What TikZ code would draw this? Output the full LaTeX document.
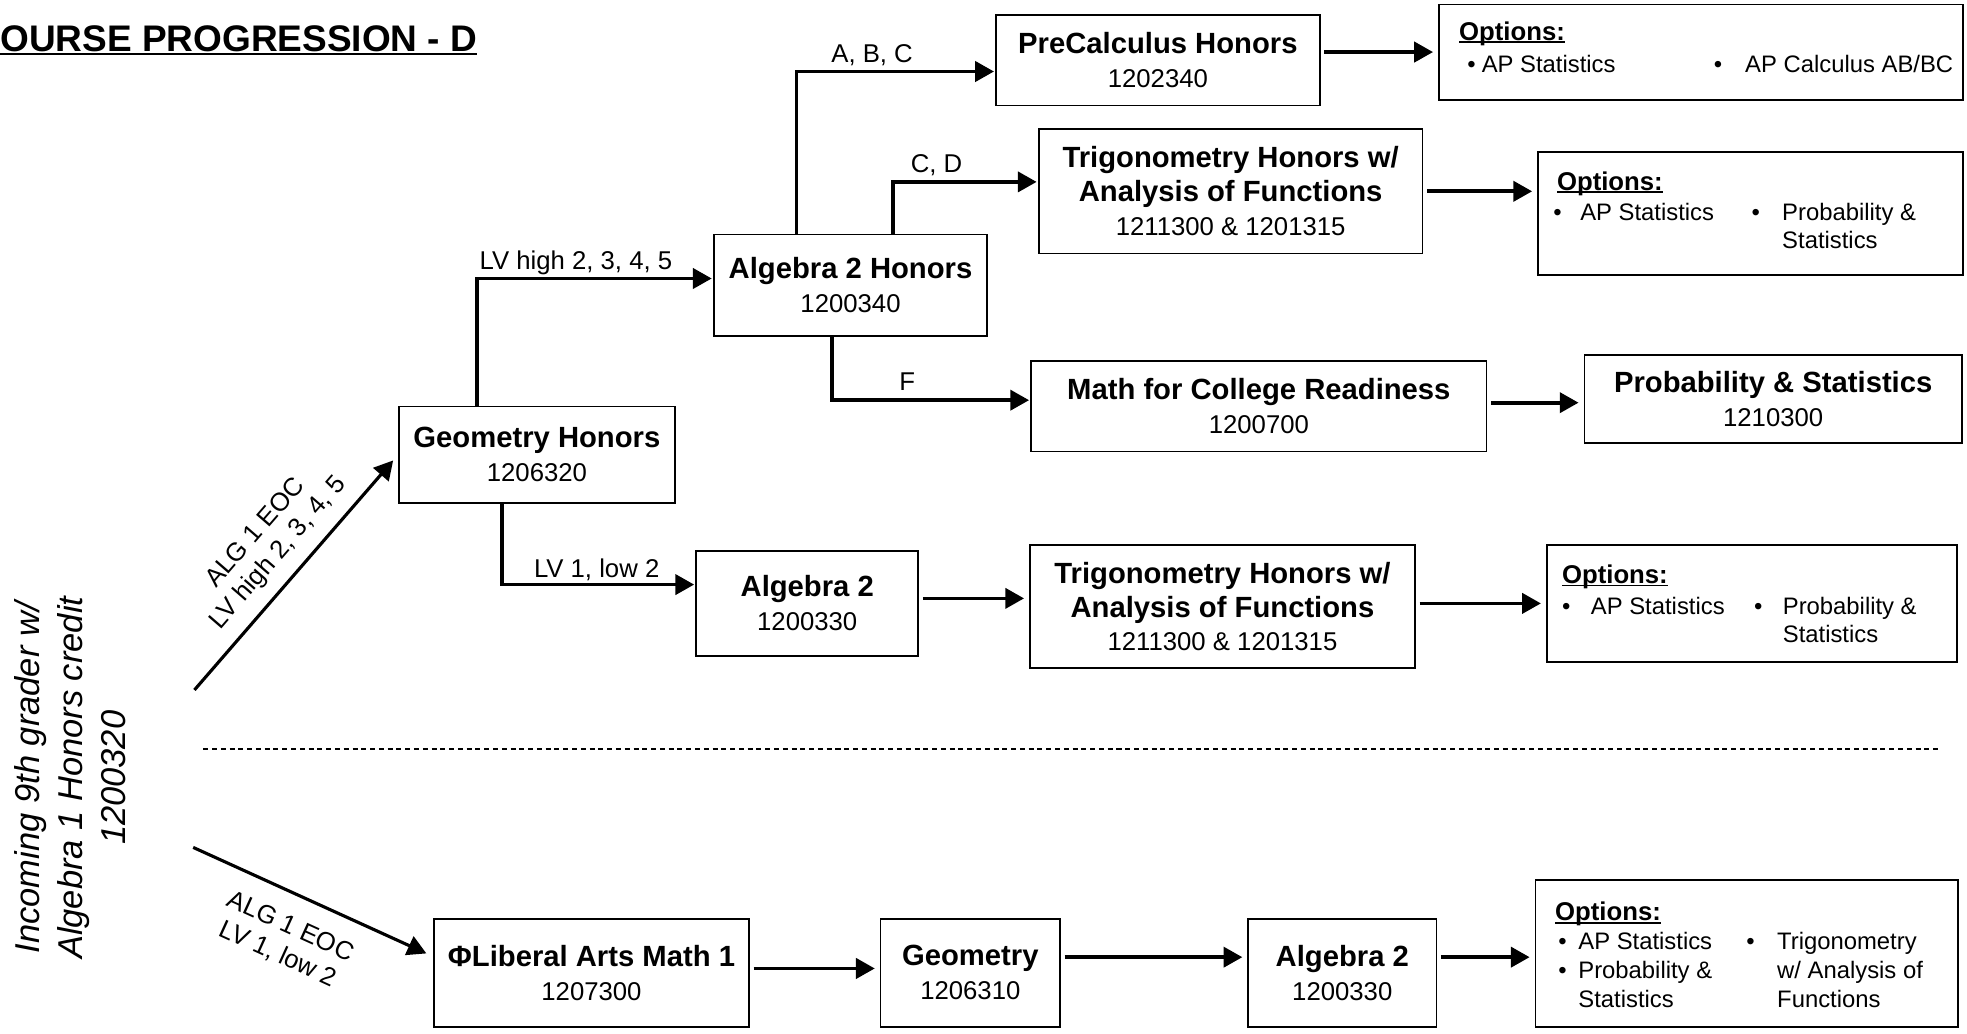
\documentclass[tikz,border=0pt]{standalone}
\usepackage{fontspec}
\setmainfont{Liberation Sans}
\usetikzlibrary{arrows.meta,calc,positioning}

\newsavebox\ulbox
\newcommand{\undl}[3]{\sbox\ulbox{#3}\rlap{\rule[-#1]{\wd\ulbox}{#2}}\usebox\ulbox}
\newcommand{\crsno}[1]{{\mdseries\fontsize{20.5}{27}\selectfont #1}}

\begin{document}
\begin{tikzpicture}[x=1pt, y=-1pt,
	course/.style={draw, line width=1.3pt, align=center, inner sep=0pt, font=\bfseries\fontsize{23.3}{27}\selectfont},
	opts/.style={draw, line width=1.3pt, inner sep=0pt},
	opthead/.style={anchor=base west, inner sep=0pt, font=\bfseries\fontsize{20.5}{24}\selectfont},
	optitem/.style={anchor=base west, inner sep=0pt, font=\fontsize{19}{23}\selectfont},
	arr/.style={-{Triangle[length=15pt,width=16pt]}, line width=3pt, shorten >=1pt},
	straight/.style={arr, shorten <=3pt, shorten >=4pt},
	diag/.style={-{Triangle[length=15pt,width=16pt]}, line width=2.5pt, shorten >=6pt},
	lbl/.style={font=\fontsize{20.5}{24}\selectfont, inner sep=0pt, text depth=0pt},
	dlbl/.style={font=\fontsize{20.5}{24}\selectfont, inner sep=0pt, align=center, sloped}
	]
	\useasboundingbox (0,0) rectangle (1568,824);

	\node[anchor=base west, inner sep=0pt, font=\bfseries\fontsize{29.5}{34}\selectfont] (title) at (0,41) {\undl{3pt}{2pt}{OURSE PROGRESSION - D}};

	\node[rotate=90, align=center, font=\itshape\fontsize{27.5}{34}\selectfont] (incoming) at (56,620) {Incoming 9th grader w/\\Algebra 1 Honors credit\\1200320};
	\coordinate (up0) at (155,550);
	\coordinate (dn0) at (154,675.5);

	% honors track
	\node[course, minimum width=220pt, minimum height=77pt] (geoh) at (428,362.5) {Geometry Honors\\\crsno{1206320}};
	\node[course, minimum width=218pt, minimum height=81pt] (alg2h) at (678,227.5) {Algebra 2 Honors\\\crsno{1200340}};
	\node[course, minimum width=258pt, minimum height=72pt] (prech) at (923,48) {PreCalculus Honors\\\crsno{1202340}};
	\node[course, minimum width=306pt, minimum height=99pt] (trigh1) at (981,152.5) {Trigonometry Honors w/\\Analysis of Functions\\\crsno{1211300 \& 1201315}};
	\node[course, minimum width=363pt, minimum height=72pt] (mcr) at (1003.5,324) {Math for College Readiness\\\crsno{1200700}};
	\node[course, minimum width=301pt, minimum height=70pt] (probs) at (1413.5,318) {Probability \& Statistics\\\crsno{1210300}};
	\node[course, minimum width=177pt, minimum height=84pt] (alg2) at (643.5,481) {Algebra 2\\\crsno{1200330}};
	\node[course, minimum width=307pt, minimum height=98pt] (trigh2) at (974.5,483.5) {Trigonometry Honors w/\\Analysis of Functions\\\crsno{1211300 \& 1201315}};

	% regular track
	\node[course, minimum width=251pt, minimum height=86pt] (lam) at (471.5,775.5) {ΦLiberal Arts Math 1\\\crsno{1207300}};
	\node[course, minimum width=143pt, minimum height=86pt] (geo) at (773.5,775.5) {Geometry\\\crsno{1206310}};
	\node[course, minimum width=150pt, minimum height=86pt] (alg2b) at (1070,775.5) {Algebra 2\\\crsno{1200330}};

	% options boxes
	\node[opts, minimum width=418pt, minimum height=76pt] (opt1) at (1356,41.5) {};
	\node[opthead] (o1h) at (1163,32) {\undl{2.3pt}{1.3pt}{Options:}};
	\node[optitem] (o1b1) at (1169.5,58) {\textbullet};
	\node[optitem] (o1t1) at (1181,58) {AP Statistics};
	\node[optitem] (o1b2) at (1366,58) {\textbullet};
	\node[optitem] (o1t2) at (1391,58) {AP Calculus AB/BC};

	\node[opts, minimum width=339pt, minimum height=98pt] (opt2) at (1395.5,170) {};
	\node[opthead] (o2h) at (1241,151.5) {\undl{2.3pt}{1.3pt}{Options:}};
	\node[optitem] (o2b1) at (1238,175.5) {\textbullet};
	\node[optitem] (o2t1) at (1259.5,175.5) {AP Statistics};
	\node[optitem] (o2b2) at (1396,175.5) {\textbullet};
	\node[optitem] (o2t2) at (1420.5,175.5) {Probability \&};
	\node[optitem] (o2t3) at (1420.5,198) {Statistics};

	\node[opts, minimum width=327pt, minimum height=93pt] (opt3) at (1396.5,481) {};
	\node[opthead] (o3h) at (1245,465) {\undl{2.3pt}{1.3pt}{Options:}};
	\node[optitem] (o3b1) at (1245,490) {\textbullet};
	\node[optitem] (o3t1) at (1268,490) {AP Statistics};
	\node[optitem] (o3b2) at (1398,490) {\textbullet};
	\node[optitem] (o3t2) at (1421,490) {Probability \&};
	\node[optitem] (o3t3) at (1421,512.5) {Statistics};

	\node[opts, minimum width=337pt, minimum height=117pt] (opt4) at (1392.5,760) {};
	\node[opthead] (o4h) at (1239.5,734) {\undl{2.3pt}{1.3pt}{Options:}};
	\node[optitem] (o4b1) at (1242,757) {\textbullet};
	\node[optitem] (o4t1) at (1258,757) {AP Statistics};
	\node[optitem] (o4b2) at (1242,780) {\textbullet};
	\node[optitem] (o4t2) at (1258,780) {Probability \&};
	\node[optitem] (o4t3) at (1258,803) {Statistics};
	\node[optitem] (o4b3) at (1392,757) {\textbullet};
	\node[optitem] (o4t4) at (1416.5,757) {Trigonometry};
	\node[optitem] (o4t5) at (1416.5,780) {w/ Analysis of};
	\node[optitem] (o4t6) at (1416.5,803) {Functions};

	% connectors
	\draw[diag] (up0) -- (geoh.west) node[dlbl, pos=0.51, above=10pt] {ALG 1 EOC\\LV high 2, 3, 4, 5};
	\draw[diag] (dn0) -- ([yshift=13pt]lam.west) node[dlbl, pos=0.46, below=16pt] {ALG 1 EOC\\LV 1, low 2};

	\draw[arr] ([xshift=-48pt]geoh.north) |- ([yshift=5.5pt]alg2h.west) node[lbl, pos=0.71, above=6pt] {LV high 2, 3, 4, 5};
	\draw[arr] ([xshift=-28pt]geoh.south) |- ([yshift=15pt]alg2.west) node[lbl, pos=0.745, above=4pt] {LV 1, low 2};
	\draw[arr] ([xshift=-43pt]alg2h.north) |- ([yshift=-9pt]prech.west) node[lbl, pos=0.69, above=6pt] {A, B, C};
	\draw[arr] ([xshift=34pt]alg2h.north) |- ([yshift=7.5pt]trigh1.west) node[lbl, pos=0.65, above=6pt] {C, D};
	\draw[arr] ([xshift=-15pt]alg2h.south) |- ([yshift=5pt]mcr.west) node[lbl, pos=0.69, above=6pt] {F};

	\draw[straight] (prech.east |- opt1.west) -- (opt1.west);
	\draw[straight] (trigh1.east) -- (trigh1.east -| opt2.west);
	\draw[straight] ([yshift=3pt]mcr.east) -- ([yshift=3pt]mcr.east -| probs.west);
	\draw[straight] ([yshift=4pt]alg2.east) -- ([yshift=4pt]alg2.east -| trigh2.west);
	\draw[straight] (trigh2.east |- opt3.west) -- (opt3.west);
	\draw[straight] ([yshift=3.5pt]lam.east) -- ([yshift=3.5pt]lam.east -| geo.west);
	\draw[straight] ([yshift=12.5pt]geo.east) -- ([yshift=12.5pt]geo.east -| alg2b.west);
	\draw[straight] ([yshift=12.5pt]alg2b.east) -- ([yshift=12.5pt]alg2b.east -| opt4.west);

	\draw[line width=1.2pt, dash pattern=on 4pt off 3pt] (162,597) -- (1545,597);
\end{tikzpicture}
\end{document}
